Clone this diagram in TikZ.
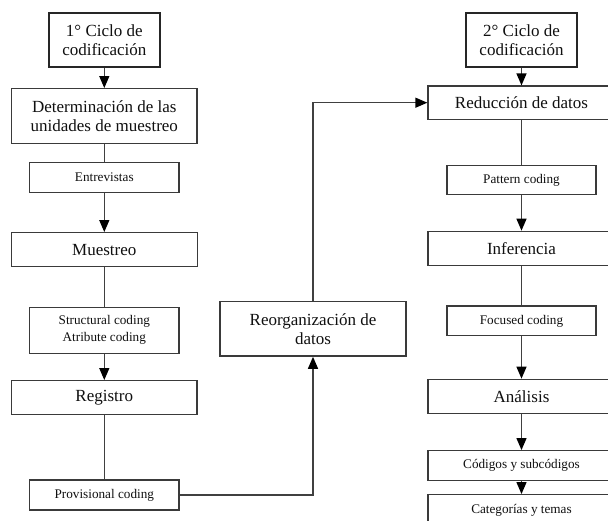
\documentclass[tikz,border=0pt]{standalone}
\usepackage{fontspec}
\setmainfont{Liberation Serif}
\usetikzlibrary{arrows.meta}
\definecolor{boxline}{HTML}{3A3A3A}
\definecolor{connline}{HTML}{404040}
\definecolor{txt}{HTML}{101010}
\begin{document}
\begin{tikzpicture}[x={(1pt,0)}, y={(0,-1pt)},
  bigbox/.style={draw=boxline, line width=1.3pt, inner sep=0pt, align=center, text=txt,
    font=\fontsize{17}{19.5}\selectfont},
  smallbox/.style={draw=boxline, line width=1.3pt, inner sep=0pt, align=center, text=txt,
    font=\fontsize{13.2}{17}\selectfont},
  cyclebox/.style={bigbox, line width=2.2pt, draw=black!85},
  conn/.style={draw=connline, line width=1.3pt},
  arr/.style={conn, -{Triangle[length=12pt 0 0,width=10pt 0 0,color=black]}}
]
\fill[white] (0,0) rectangle (608,521);
\useasboundingbox (0,0) rectangle (608,521);

% left column
\node[cyclebox, minimum width=111pt, minimum height=54.6pt] (c1) at (104.3,40) {1° Ciclo de\\codificación};
\node[bigbox, minimum width=185.4pt, minimum height=54.6pt] (det) at (104.3,116) {Determinación de las\\unidades de muestreo};
\node[smallbox, minimum width=149.2pt, minimum height=29.6pt] (ent) at (104.3,177.5) {Entrevistas};
\node[bigbox, minimum width=185.7pt, minimum height=34pt] (mue) at (104.3,249.7) {Muestreo};
\node[smallbox, minimum width=149.2pt, minimum height=46pt] (str) at (104.3,330.3) {Structural coding\\Atribute coding};
\node[bigbox, minimum width=185.6pt, minimum height=33.6pt] (reg) at (104.3,397.5) {Registro};
\node[smallbox, minimum width=149.2pt, minimum height=30pt] (pro) at (104.3,495) {Provisional coding};

% middle
\node[bigbox, minimum width=186pt, minimum height=54.3pt] (reo) at (313,329) {Reorganización de\\datos};

% right column
\node[cyclebox, minimum width=111.3pt, minimum height=54.6pt] (c2) at (521.5,40) {2° Ciclo de\\codificación};
\node[bigbox, minimum width=187pt, minimum height=33.3pt] (red) at (521.5,102.7) {Reducción de datos};
\node[smallbox, minimum width=149pt, minimum height=29.4pt] (pat) at (521.5,180) {Pattern coding};
\node[bigbox, minimum width=187pt, minimum height=34pt] (inf) at (521.5,248.3) {Inferencia};
\node[smallbox, minimum width=149pt, minimum height=29.7pt] (foc) at (521.5,320.9) {Focused coding};
\node[bigbox, minimum width=187pt, minimum height=34pt] (ana) at (521.5,396.3) {Análisis};
\node[smallbox, minimum width=187pt, minimum height=29.6pt] (cod) at (521.5,465.5) {Códigos y subcódigos};
\node[smallbox, minimum width=187pt, minimum height=31pt] (cat) at (521.5,510.2) {Categorías y temas};

% connectors left
\draw[arr] (c1.south) -- (det.north);
\draw[conn] (det.south) -- (ent.north);
\draw[arr] (ent.south) -- (mue.north);
\draw[conn] (mue.south) -- (str.north);
\draw[arr] (str.south) -- (reg.north);
\draw[conn] (reg.south) -- (pro.north);

% elbows
\draw[arr] (pro.east) -| (reo.south);
\draw[arr] (reo.north) |- (red.west);

% connectors right
\draw[arr] (c2.south) -- (red.north);
\draw[conn] (red.south) -- (pat.north);
\draw[arr] (pat.south) -- (inf.north);
\draw[conn] (inf.south) -- (foc.north);
\draw[arr] (foc.south) -- (ana.north);
\draw[arr] (ana.south) -- (cod.north);
\draw[arr] (cod.south) -- (cat.north);
\end{tikzpicture}
\end{document}
